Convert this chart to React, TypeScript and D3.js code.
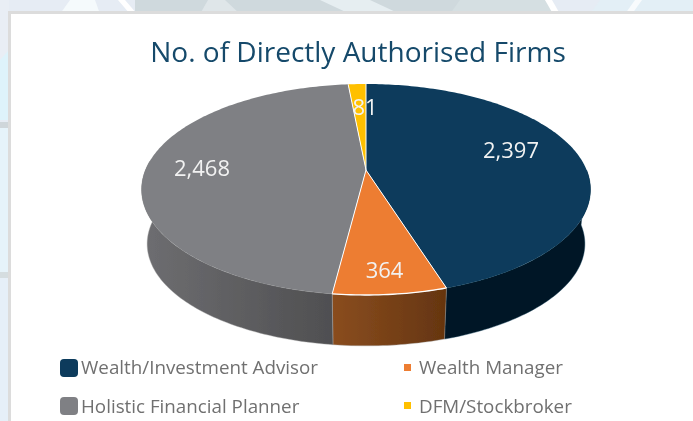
import React from "react";
import * as d3 from "d3";

const categories = ["Wealth/Investment Advisor", "Wealth Manager", "Holistic Financial Planner", "DFM/Stockbroker"];
const values = [2397, 364, 2468, 81];
const valueLabels = ["2,397", "364", "2,468", "81"];
const colors = ["#073a5b", "#ed7d31", "#7f8084", "#ffc000"];
const sideStops = [["#021826", "#021826"], ["#8a4d1f", "#653510"], ["#6e6e71", "#4f4f51"], ["#999", "#999"]];
const sideRange: (number[] | null)[] = [[90, 162.5], [162.5, 187.2], [187.2, 275], null];
const labelPos = [[511, 158], [384.5, 278], [202, 176], [365, 115]];
const legendText = [[81, 374], [419, 374], [81, 413], [419, 413]];
const legendSwatch = [[60, 359, 18, 4], [404, 364, 7, 0], [60, 397, 18, 4], [404, 402, 7, 0]];

const W = 693, H = 421;
const FONT = "'Open Sans', 'Noto Sans', sans-serif";

// background patches of the page behind the card
const bgPolys: [string, string][] = [
  ["#e6ecf4", "0,0 693,0 693,14 0,14"],
  ["#cfd9dd", "135,0 460,0 460,14 135,14"],
  ["#f5fafc", "60,14 70,0 95,0 100,14"],
  ["#ffffff", "118,0 125,0 137,14 130,14"],
  ["#dfe6e9", "200,14 208,0 225,0 240,14"],
  ["#e6eef1", "320,0 370,0 400,14 350,14"],
  ["#d5dfe2", "460,0 545,0 560,14 450,14"],
  ["#ffffff", "545,0 552,0 560,14 553,14"],
  ["#e3eff6", "590,14 600,0 693,0 693,14"],
  ["#f8fbfd", "625,14 635,0 642,0 632,14"],
  ["#e9eef5", "0,0 9,0 9,60 0,60"],
  ["#def3fb", "0,60 9,50 9,120 0,120"],
  ["#cfd6da", "0,122 9,122 9,128 0,128"],
  ["#e6f3fa", "0,128 9,128 9,272 0,272"],
  ["#d5dde0", "0,272 9,272 9,278 0,278"],
  ["#e6eff8", "0,278 9,278 9,421 0,421"],
];

// Perspective projection of the pie disc: the apex sits above the outline's centre.
const persp = 0.1848;
const top = { cx: 366, cy: 170, a: 220.6, b: 101.9 };
const bottom = { cx: 366, cy: 225, a: 220.6 * 0.975, b: 101.9 * 0.967 };
type Disc = typeof top;
const project = (d: Disc, deg: number): [number, number] => {
  const t = (deg * Math.PI) / 180;
  const u = Math.sin(t), v = Math.cos(t);
  const w = 1 + persp * v;
  return [d.cx + (d.a * u) / w, d.cy - (d.b * v) / w];
};
const line = d3.line();
const arcPts = (d: Disc, a0: number, a1: number) => {
  const n = Math.max(2, Math.ceil(Math.abs(a1 - a0)));
  return d3.range(n + 1).map((i) => project(d, a0 + ((a1 - a0) * i) / n));
};

const pie = d3.pie<number>().sort(null).value((v) => v);
const slices = pie(values);
const toDeg = (r: number) => (r * 180) / Math.PI;

export default function App() {
  return (
    <svg width={W} height={H} viewBox={`0 0 ${W} ${H}`} style={{ position: "absolute", left: 0, top: 0, display: "block" }}>
      <defs>
        <filter id="soft" x="-5%" y="-5%" width="110%" height="110%">
          <feGaussianBlur stdDeviation="0.4" />
        </filter>
        {sideRange.map((r, i) => {
          if (!r) return null;
          const xs = [...arcPts(top, r[0], r[1]), ...arcPts(bottom, r[0], r[1])].map((p) => p[0]);
          return (
            <linearGradient key={i} id={`side${i}`} gradientUnits="userSpaceOnUse" x1={d3.min(xs)} x2={d3.max(xs)} y1={0} y2={0}>
              <stop offset="0" stopColor={sideStops[i][0]} />
              <stop offset="1" stopColor={sideStops[i][1]} />
            </linearGradient>
          );
        })}
      </defs>
      <g filter="url(#soft)">
        <rect width={W} height={H} fill="#e6ecf4" />
        {bgPolys.map(([f, p], i) => <polygon key={i} points={p} fill={f} />)}
        <rect x={9.5} y={12.5} width={W} height={H} fill="#fff" stroke="#dcdcdc" strokeWidth={3} />

        <text x={358} y={62} textAnchor="middle" fontFamily={FONT} fontSize={28} fill="#144a6b">No. of Directly Authorised Firms</text>

        {sideRange.map((r, i) => r && (
          <path key={i}
            d={(line([...arcPts(top, r[0], r[1]), ...arcPts(bottom, r[1], r[0])]) as string) + "Z"}
            fill={`url(#side${i})`} stroke={i === 0 ? "#0d3a58" : "#a9a9a9"} strokeWidth={0.4} />
        ))}
        {slices.map((s, i) => (
          <path key={i}
            d={(line([[top.cx, top.cy], ...arcPts(top, toDeg(s.startAngle), toDeg(s.endAngle))]) as string) + "Z"}
            fill={colors[i]} />
        ))}
        {slices.map((s, i) => (
          <path key={i} d={line([project(top, toDeg(s.startAngle)), [top.cx, top.cy]]) as string} stroke="#fff" strokeWidth={1} fill="none" />
        ))}
        <path d={line(arcPts(top, toDeg(slices[1].startAngle), toDeg(slices[1].endAngle))) as string} stroke="#fff" strokeWidth={1.3} fill="none" />

        {valueLabels.map((t, i) => (
          <text key={i} x={labelPos[i][0]} y={labelPos[i][1]} textAnchor="middle" fontFamily={FONT} fontSize={22} fill="#f2f2f2">{t}</text>
        ))}
        {categories.map((c, i) => {
          const [x, y, s, r] = legendSwatch[i];
          return (
            <g key={c}>
              <rect x={x} y={y} width={s} height={s} rx={r} fill={colors[i]} />
              <text x={legendText[i][0]} y={legendText[i][1]} fontFamily={FONT} fontSize={18.8} fill="#707070">{c}</text>
            </g>
          );
        })}
      </g>
    </svg>
  );
}
